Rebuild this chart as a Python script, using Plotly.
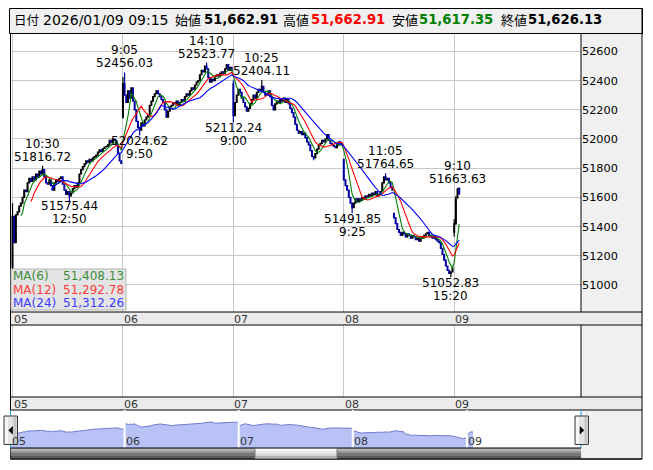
import plotly.graph_objects as go
import pandas as pd
import numpy as np

W, H = 653, 470

# ---------------- data ----------------
day_labels = ["05", "06", "07", "08", "09"]
BARS_PER_DAY = 66

close_d05 = [51470, 51290, 51480, 51500, 51540, 51560, 51600, 51650, 51640, 51700,
             51730, 51710, 51740, 51720, 51760, 51740, 51780, 51760, 51790, 51740,
             51700, 51690, 51720, 51680, 51650, 51700, 51720, 51710, 51730, 51740,
             51690, 51650, 51620, 51640, 51610, 51630, 51660, 51680, 51670, 51700,
             51760, 51790, 51810, 51830, 51850, 51840, 51860, 51850, 51870, 51880,
             51890, 51910, 51925, 51915, 51935, 51945, 51950, 51960, 51990, 51975,
             52000, 51990, 51960, 51900, 51850, 51832]
close_d06 = [52380, 52300, 52250, 52330, 52280, 52350, 52260, 52200, 52120, 52080,
             52060, 52110, 52090, 52130, 52150, 52160, 52230, 52260, 52290, 52310,
             52330, 52310, 52290, 52270, 52250, 52200, 52150, 52190, 52220, 52230,
             52250, 52240, 52260, 52230, 52250, 52270, 52260, 52290, 52310, 52300,
             52330, 52350, 52340, 52370, 52390, 52400, 52440, 52470, 52460, 52500,
             52480, 52420, 52390, 52410, 52400, 52430, 52440, 52430, 52450, 52460,
             52450, 52480, 52510, 52470, 52490, 52470]
close_d07 = [52160, 52250, 52300, 52340, 52320, 52280, 52250, 52220, 52190, 52210,
             52240, 52270, 52300, 52280, 52320, 52340, 52330, 52360, 52320, 52300,
             52310, 52330, 52290, 52230, 52200, 52240, 52260, 52250, 52270, 52260,
             52280, 52250, 52270, 52240, 52210, 52180, 52150, 52100, 52060, 52040,
             52050, 52030, 52040, 52010, 51980, 51960, 51920, 51880, 51870, 51900,
             51930, 51960, 51970, 51990, 51980, 52000, 52030, 51990, 51970, 51960,
             51950, 51940, 51960, 51980, 51970, 51962]
close_d08 = [51720, 51680, 51650, 51600, 51560, 51530, 51560, 51590, 51570, 51590,
             51580, 51600, 51590, 51610, 51600, 51620, 51610, 51630, 51620, 51640,
             51610, 51620, 51640, 51700, 51740, 51720, 51730, 51700, 51670, 51650,
             51460, 51420, 51380, 51360, 51340, 51360, 51350, 51330, 51350, 51340,
             51320, 51340, 51330, 51310, 51320, 51300, 51320, 51330, 51340, 51350,
             51360, 51340, 51330, 51320, 51330, 51310, 51300, 51290, 51250, 51210,
             51170, 51130, 51100, 51080, 51090, 51117]
close_d09 = [51420, 51590, 51655, 51626.13]
open_d09 = [51360, 51420, 51600, 51662.91]
high_d09 = [51450, 51610, 51663.63, 51662.91]
low_d09 = [51330, 51410, 51590, 51617.35]

# session-open prices (gaps) and marked extremes, keyed by bar number
open_at = {0: 51120, 66: 52150, 132: 52380, 198: 51860, 228: 51490}
high_at = {0: 51560, 18: 51816.72, 66: 52425, 67: 52456.03, 116: 52523.77,
           132: 52400, 149: 52404.11, 223: 51764.65}
low_at = {0: 51100, 34: 51575.44, 66: 52140, 76: 52024.62, 132: 52112.24,
          180: 51855, 203: 51491.85, 262: 51052.83}

peak_idx = [18, 67, 116, 149, 223, 266]
peak_time = ["10:30", "9:05", "14:10", "10:25", "11:05", "9:10"]
trough_idx = [34, 76, 132, 203, 262]
trough_time = ["12:50", "9:50", "9:00", "9:25", "15:20"]

ma_periods = [6, 12, 24]
ma_colors = ["#008000", "#FF0000", "#0000FF"]
ma_text_colors = ["#3C8C3C", "#FF3C3C", "#3C3CFF"]
ma_last = [51408.13, 51292.78, 51312.26]

y_ticks = [51000, 51200, 51400, 51600, 51800, 52000, 52200, 52400, 52600]

# ---------------- build OHLC ----------------
closes = close_d05 + close_d06 + close_d07 + close_d08 + close_d09
n = len(closes)
opens = [closes[i - 1] if i > 0 else closes[0] for i in range(n)]
for k, v in open_at.items():
    opens[k] = v
d9 = 4 * BARS_PER_DAY
for j in range(len(close_d09)):
    opens[d9 + j] = open_d09[j]
highs = [max(o, c) for o, c in zip(opens, closes)]
lows = [min(o, c) for o, c in zip(opens, closes)]
for k, v in high_at.items():
    highs[k] = v
for k, v in low_at.items():
    lows[k] = v
for j in range(len(close_d09)):
    highs[d9 + j] = high_d09[j]
    lows[d9 + j] = low_d09[j]

idx = np.arange(n)
cs = pd.Series(closes, dtype=float)
day_starts = [BARS_PER_DAY * d for d in range(len(day_labels))]

# ---------------- geometry helpers (pixels -> paper) ----------------
def X(p):
    return p / W

def Y(p):
    return 1 - p / H

PL, PR = 10.5, 581.0          # plot left / right
RP = 642.0                     # right edge of frame
HT = 8.5                       # header top
TOP, MAIN_B = 33.5, 312.0
STRIP1_B = 325.0
LOW_B = 397.0
STRIP2_B = 410.0
NAV_B = 448.0
BOT = 459.0

FONT = "DejaVu Sans"

fig = go.Figure()

fig.add_trace(go.Candlestick(
    x=idx, open=opens, high=highs, low=lows, close=closes,
    xaxis="x", yaxis="y",
    increasing=dict(line=dict(color="#000000", width=1.2), fillcolor="#000000"),
    decreasing=dict(line=dict(color="#0000A0", width=1.2), fillcolor="#0000A0"),
    whiskerwidth=0, hoverinfo="skip", showlegend=False,
))
for p, col in zip(ma_periods, ma_colors):
    fig.add_trace(go.Scatter(
        x=idx, y=cs.rolling(p).mean(), mode="lines",
        line=dict(color=col, width=1.1), xaxis="x", yaxis="y",
        hoverinfo="skip", showlegend=False,
    ))

# navigator area
fig.add_trace(go.Scatter(
    x=idx, y=closes, mode="lines", fill="tozeroy",
    fillcolor="rgb(184,194,246)", line=dict(color="rgb(112,122,206)", width=1),
    xaxis="x3", yaxis="y3", hoverinfo="skip", showlegend=False,
))
# dummy for lower panel
fig.add_trace(go.Scatter(x=[0], y=[0.5], mode="markers", marker=dict(opacity=0),
                         xaxis="x2", yaxis="y2", hoverinfo="skip", showlegend=False))

main_range = [-1.2, 339.8]
nav_range = [-0.5, 329.5]

axis_common = dict(showline=False, zeroline=False, fixedrange=True)
fig.update_layout(
    width=W, height=H,
    margin=dict(l=0, r=0, t=0, b=0),
    paper_bgcolor="white", plot_bgcolor="white",
    showlegend=False,
    xaxis=dict(domain=[X(PL), X(PR)], range=main_range, tickvals=day_starts,
               showgrid=True, gridcolor="#C8C8C8", gridwidth=1,
               showticklabels=False, ticks="", anchor="y",
               rangeslider=dict(visible=False), **axis_common),
    yaxis=dict(domain=[Y(MAIN_B), Y(TOP)], range=[50814.7, 52722.7],
               side="right", tickvals=y_ticks, ticktext=[str(t) for t in y_ticks],
               ticks="", tickformat="d",
               showgrid=True, gridcolor="#C8C8C8", gridwidth=1,
               tickfont=dict(family=FONT, size=11.3, color="#000000"),
               anchor="x", **axis_common),
    xaxis2=dict(domain=[X(PL), X(PR)], range=main_range, tickvals=day_starts,
                showgrid=True, gridcolor="#C8C8C8", showticklabels=False,
                ticks="", anchor="y2", **axis_common),
    yaxis2=dict(domain=[Y(LOW_B), Y(STRIP1_B)], range=[0, 1], showgrid=False,
                showticklabels=False, ticks="", anchor="x2", **axis_common),
    xaxis3=dict(domain=[X(PL), X(PR)], range=nav_range, showgrid=False,
                showticklabels=False, ticks="", anchor="y3", **axis_common),
    yaxis3=dict(domain=[Y(NAV_B), Y(STRIP2_B)], range=[50250, 53540],
                showgrid=False, showticklabels=False, ticks="", anchor="x3",
                **axis_common),
)

shapes = []

def rect(x0, y0, x1, y1, fill, line=None, lw=1, layer="below"):
    shapes.append(dict(type="rect", xref="paper", yref="paper",
                       x0=X(x0), x1=X(x1), y0=Y(y1), y1=Y(y0),
                       fillcolor=fill, layer=layer,
                       line=dict(color=line or fill, width=lw if line else 0)))

def hline(y, x0, x1, color="#000000", w=1, layer="above"):
    shapes.append(dict(type="line", xref="paper", yref="paper",
                       x0=X(x0), x1=X(x1), y0=Y(y), y1=Y(y),
                       line=dict(color=color, width=w), layer=layer))

def vline(x, y0, y1, color="#000000", w=1, layer="above"):
    shapes.append(dict(type="line", xref="paper", yref="paper",
                       x0=X(x), x1=X(x), y0=Y(y0), y1=Y(y1),
                       line=dict(color=color, width=w), layer=layer))

# header box
rect(9.5, HT, RP + 0.5, TOP, "#F0F0F0", "#000000", 1, layer="above")
# right grey panel and strips
rect(PR, TOP, RP, BOT, "#F0F0F0")
rect(PL, MAIN_B, RP, STRIP1_B, "#EBEBEB")
rect(PL, LOW_B, RP, STRIP2_B, "#EBEBEB")
# frame lines
vline(PL, TOP, BOT)
vline(RP, HT, BOT)
vline(PR, TOP, MAIN_B)
vline(PR, STRIP1_B, LOW_B)
for yy in (MAIN_B, STRIP1_B, LOW_B, STRIP2_B, BOT):
    hline(yy, PL, RP)
# navigator day separators
for d in day_starts[1:]:
    shapes.append(dict(type="line", xref="x3", yref="paper", x0=d - 0.5, x1=d - 0.5,
                       y0=Y(NAV_B), y1=Y(STRIP2_B), line=dict(color="white", width=2),
                       layer="above"))
# selection markers
vline(PL, STRIP2_B, NAV_B, "#1EA8E0")
vline(PR, STRIP2_B, NAV_B, "#1EA8E0")
# scrollbar track (gradient stripes)
for (a, b, c) in [(448, 450.5, "#B4B4B4"), (450.5, 453, "#959595"),
                  (453, 456, "#777777"), (456, 459, "#5C5C5C")]:
    rect(PL, a, PR, b, c, layer="above")
hline(NAV_B, PL, PR)
hline(BOT, PL, RP)
# thumb
for (a, b, c) in [(448.5, 451, "#FAFAFA"), (451, 454, "#EAEAEA"),
                  (454, 456.5, "#D6D6D6"), (456.5, 458.5, "#BDBDBD")]:
    rect(255, a, 337, b, c, layer="above")
rect(255, 448.5, 337, 458.5, "rgba(0,0,0,0)", "#7A7A7A", 1, layer="above")
# arrow buttons
for (x0, x1, pts) in [(4, 17.5, [(12.6, 426.5), (8.6, 430.3), (12.6, 434.1)]),
                      (575, 588.5, [(580, 426.5), (584, 430.3), (580, 434.1)])]:
    rect(x0, 416, x1, 444.5, "#E4E4E4", "#3A3A3A", 1, layer="above")
    rect(x0 + 1, 417, x0 + 4, 443.5, "#F6F6F6", layer="above")
    rect(x1 - 4, 417, x1 - 1, 443.5, "#C4C4C4", layer="above")
    path = "M " + " L ".join(f"{X(px):.5f},{Y(py):.5f}" for px, py in pts) + " Z"
    shapes.append(dict(type="path", xref="paper", yref="paper", path=path,
                       fillcolor="#000000", line=dict(color="#000000", width=0.5),
                       layer="above"))
# MA legend box
rect(11, 269, 126, 310, "rgba(226,226,226,0.92)", "#B4B4B4", 1, layer="above")

fig.update_layout(shapes=shapes)

ann = []

def txt(x, y, s, size=12, color="#000000", xanchor="left", family=FONT,
        xref="paper", yref="paper", yanchor="middle", xshift=0, yshift=0,
        height=None):
    a = dict(x=x, y=y, xref=xref, yref=yref, text=s, showarrow=False,
             xanchor=xanchor, yanchor=yanchor, xshift=xshift, yshift=yshift,
             borderpad=0, font=dict(family=family, size=size, color=color))
    if height:
        a["height"] = height
    ann.append(a)

# header
HY = Y(20.0)
last = n - 1
CJK = "Noto Sans CJK JP"
txt(X(12.5), HY, "日付", 12.5, family=CJK)
txt(X(41.5), HY, "2026/01/09 09:15", 14)
txt(X(173.5), HY, "始値", 13, family=CJK)
txt(X(203), HY, f"<b>{opens[last]:,.2f}</b>", 13.2)
txt(X(281.5), HY, "高値", 13, family=CJK)
txt(X(310), HY, f"<b>{highs[last]:,.2f}</b>", 13.2, color="#FF0000")
txt(X(390.5), HY, "安値", 13, family=CJK)
txt(X(418), HY, f"<b>{lows[last]:,.2f}</b>", 13.2, color="#008000")
txt(X(499.5), HY, "終値", 13, family=CJK)
txt(X(527), HY, f"<b>{closes[last]:,.2f}</b>", 13.2)

# day labels on strips and navigator
for d, lab in zip(day_starts, day_labels):
    txt(d, Y(318.5), lab, 11, "#333333", xref="x", xshift=0, height=12)
    txt(d, Y(403.5), lab, 11, "#333333", xref="x2", xshift=0, height=12)
    txt(d - 0.5, Y(440.5), lab, 11, "#333333", xref="x3", xshift=0, height=12)

# extreme labels
for i, t in zip(peak_idx, peak_time):
    v = highs[i]
    txt(i, v, f"{v:.2f}", 12, xref="x", yref="y", xanchor="center", yshift=9.5, height=11)
    txt(i, v, t, 12, xref="x", yref="y", xanchor="center", yshift=22.5, height=11)
for i, t in zip(trough_idx, trough_time):
    v = lows[i]
    txt(i, v, f"{v:.2f}", 12, xref="x", yref="y", xanchor="center", yshift=-5, height=11)
    txt(i, v, t, 12, xref="x", yref="y", xanchor="center", yshift=-18, height=11)

# MA legend
for k, (p, c, val) in enumerate(zip(ma_periods, ma_text_colors, ma_last)):
    yy = Y(276 + 13.5 * k)
    txt(X(11.5), yy, f"MA({p})", 12, c, height=12)
    txt(X(125), yy, f"{val:,.2f}", 12, c, xanchor="right", height=12)

fig.update_layout(annotations=ann)

fig.write_html("out.html", config={"displayModeBar": False},
               post_script="document.body.style.margin='0';")
